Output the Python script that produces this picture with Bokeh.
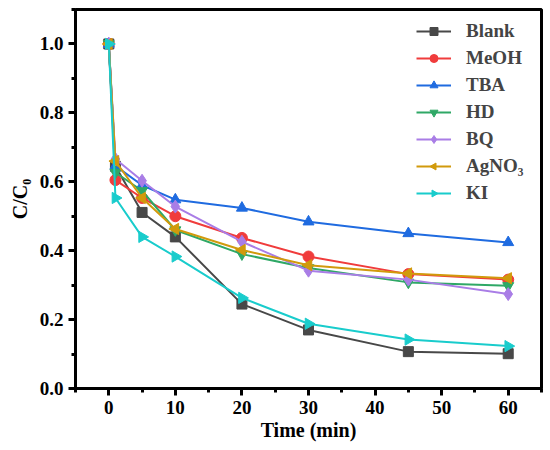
import math
from bokeh.plotting import figure
from bokeh.models import Range1d, SingleIntervalTicker, PrintfTickFormatter, Legend, LegendItem, ColumnDataSource
from bokeh.embed import file_html
from bokeh.resources import INLINE

time = [0, 1, 5, 10, 20, 30, 45, 60]
blank = [1.0, 0.645, 0.511, 0.440, 0.245, 0.170, 0.107, 0.101]
meoh = [1.0, 0.605, 0.553, 0.500, 0.437, 0.383, 0.332, 0.316]
tba = [1.0, 0.646, 0.590, 0.548, 0.524, 0.484, 0.450, 0.424]
hd = [1.0, 0.627, 0.574, 0.460, 0.390, 0.350, 0.308, 0.298]
bq = [1.0, 0.666, 0.603, 0.528, 0.426, 0.342, 0.316, 0.274]
agno3 = [1.0, 0.660, 0.553, 0.463, 0.402, 0.358, 0.334, 0.320]
ki = [1.0, 0.553, 0.440, 0.383, 0.263, 0.188, 0.142, 0.123]

names = ["Blank", "MeOH", "TBA", "HD", "BQ", "AgNO₃", "KI"]
series = [blank, meoh, tba, hd, bq, agno3, ki]
colors = ["#484848", "#f03c3c", "#1f6be0", "#2fa866", "#a97de6", "#d19a0c", "#19cccc"]
markers = ["square", "circle", "triangle", "inverted_triangle", "diamond", "left", "right"]
sizes = [10, 11, 11, 11, 13, 11, 11]

FONT = "Liberation Serif"

p = figure(width=544, height=444, output_backend="svg", toolbar_location=None,
           x_range=Range1d(-5, 65), y_range=Range1d(0, 1.1),
           min_border_left=75, min_border_right=3, min_border_top=9, min_border_bottom=56)

items = []
for name, ys, c, m, s in zip(names, series, colors, markers, sizes):
    src = ColumnDataSource(dict(x=time, y=ys))
    l = p.line("x", "y", source=src, line_color=c, line_width=2)
    if m in ("left", "right"):
        ang = math.pi / 2 if m == "left" else -math.pi / 2
        sc = p.ngon("x", "y", source=src, radius=6.5, radius_units="screen", n=3,
                    angle=ang, fill_color=c, line_color=c)
    else:
        sc = p.scatter("x", "y", source=src, marker=m, size=s, fill_color=c, line_color=c)
    items.append(LegendItem(label=name, renderers=[l, sc]))

legend = Legend(items=items, location=(341, 184), border_line_color=None,
                background_fill_alpha=0, label_text_font=FONT, label_text_font_style="bold",
                label_text_font_size="19px", glyph_width=35, glyph_height=20, label_height=20,
                spacing=5, padding=7, margin=0, label_standoff=15)
p.add_layout(legend)

p.grid.visible = False
p.outline_line_color = "black"
p.outline_line_width = 3
p.outline_line_alpha = 1
p.background_fill_color = "white"

p.xaxis.ticker = SingleIntervalTicker(interval=10, num_minor_ticks=2)
p.yaxis.ticker = SingleIntervalTicker(interval=0.2, num_minor_ticks=2)
p.yaxis.formatter = PrintfTickFormatter(format="%.1f")

for ax in (p.xaxis[0], p.yaxis[0]):
    ax.axis_line_width = 3
    ax.axis_line_color = "black"
    ax.major_tick_line_color = "black"
    ax.minor_tick_line_color = "black"
    ax.major_tick_line_width = 3
    ax.minor_tick_line_width = 3
    ax.major_tick_out = 7
    ax.major_tick_in = 0
    ax.minor_tick_out = 4
    ax.minor_tick_in = 0
    ax.major_label_standoff = 5
    ax.major_label_text_font = FONT
    ax.major_label_text_font_style = "bold"
    ax.major_label_text_font_size = "19px"
    ax.major_label_text_color = "black"
    ax.axis_label_text_font = FONT
    ax.axis_label_text_font_style = "bold"
    ax.axis_label_text_color = "black"

p.xaxis.axis_label = "Time (min)"
p.xaxis.axis_label_text_font_size = "20px"
p.xaxis.axis_label_standoff = 2
p.yaxis.axis_label = "C/C₀"
p.yaxis.axis_label_text_font_size = "20px"
p.yaxis.axis_label_standoff = 6

open("out.html", "w").write(file_html(p, INLINE))
